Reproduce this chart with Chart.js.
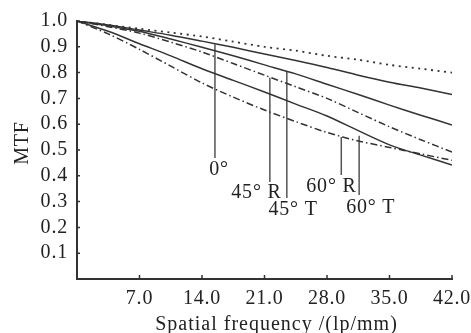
<!DOCTYPE html>
<html>
<head>
<meta charset="utf-8">
<script src="https://cdn.jsdelivr.net/npm/chart.js@4.4.1/dist/chart.umd.min.js"></script>
<style>
    html, body { margin: 0; padding: 0; background: #fff; }
</style>
</head>
<body>
<canvas id="mtfChart" width="471" height="333"></canvas>
<script>
// spatial frequency samples (lp/mm)
const freq = [0, 3.5, 7, 10.5, 14, 17.5, 21, 24.5, 28, 31.5, 35, 38.5, 42];

// MTF curves
const mtfDiffraction = [1.0, 0.985, 0.97, 0.955, 0.94, 0.92, 0.90, 0.885, 0.865, 0.85, 0.83, 0.815, 0.80];
const mtf0 = [1.0, 0.985, 0.965, 0.945, 0.922, 0.898, 0.872, 0.847, 0.82, 0.79, 0.763, 0.74, 0.715];
const mtf45T = [1.0, 0.982, 0.96, 0.93, 0.898, 0.865, 0.83, 0.795, 0.755, 0.715, 0.674, 0.635, 0.597];
const mtf45R = [1.0, 0.978, 0.953, 0.918, 0.88, 0.835, 0.79, 0.745, 0.70, 0.645, 0.59, 0.54, 0.492];
const mtf60T = [1.0, 0.96, 0.912, 0.865, 0.815, 0.77, 0.725, 0.678, 0.632, 0.575, 0.52, 0.48, 0.442];
const mtf60R = [1.0, 0.95, 0.89, 0.825, 0.76, 0.705, 0.655, 0.61, 0.568, 0.535, 0.51, 0.485, 0.46];

// field labels and their leader lines (data units)
const fieldLabels = ["0°", "45° R", "45° T", "60° R", "60° T"];
const leaderFreq = [15.45, 21.6, 23.5, 29.6, 31.6];
const leaderTop = [0.91, 0.78, 0.805, 0.55, 0.555];
const leaderBottom = [0.469, 0.376, 0.314, 0.403, 0.326];
const labelFreq = [15.9, 20.1, 24.2, 28.5, 32.9];
const labelMtf = [0.422, 0.333, 0.267, 0.357, 0.275];

const xTitle = "Spatial frequency /(lp/mm)";
const yTitle = "MTF";

const FONT = "'Liberation Serif', 'Times New Roman', serif";
const INK = "#333";

function toPoints(values) {
    return freq.map((f, i) => ({ x: f, y: values[i] }));
}

function curve(values, dash, width) {
    return {
        data: toPoints(values),
        borderColor: INK,
        borderWidth: width || 1.5,
        borderDash: dash,
        pointRadius: 0,
        tension: 0.3
    };
}

const leaderSets = leaderFreq.map((f, i) => ({
    data: [{ x: f, y: leaderTop[i] }, { x: f, y: leaderBottom[i] }],
    borderColor: "#555",
    borderWidth: 1.5,
    pointRadius: 0
}));

// the printed figure uses slightly wide lettering
const spacingPlugin = {
    id: "spacing",
    beforeDraw(chart) {
        chart.ctx.letterSpacing = "0.8px";
    }
};

// inward tick marks, axis titles and field labels
const decorPlugin = {
    id: "decor",
    afterDraw(chart) {
        const { ctx, chartArea, scales } = chart;
        const xs = scales.x, ys = scales.y;
        ctx.save();
        ctx.strokeStyle = INK;
        ctx.lineWidth = 1.5;
        ctx.beginPath();
        xs.ticks.forEach(t => {
            if (t.value === 0) return;
            const px = xs.getPixelForValue(t.value);
            ctx.moveTo(px, chartArea.bottom);
            ctx.lineTo(px, chartArea.bottom - 4);
        });
        ys.ticks.forEach(t => {
            if (t.value === 0) return;
            const py = ys.getPixelForValue(t.value);
            ctx.moveTo(chartArea.left, py);
            ctx.lineTo(chartArea.left + 3, py);
        });
        ctx.stroke();

        ctx.fillStyle = "#222";
        ctx.font = "20px " + FONT;
        ctx.letterSpacing = "0.8px";
        ctx.textAlign = "center";
        ctx.textBaseline = "middle";
        fieldLabels.forEach((txt, i) => {
            ctx.fillText(txt, xs.getPixelForValue(labelFreq[i]), ys.getPixelForValue(labelMtf[i]));
        });

        ctx.letterSpacing = "1px";
        ctx.fillText(xTitle, chartArea.left + (chartArea.right - chartArea.left) * 0.532, chart.height - 8);

        ctx.letterSpacing = "0.8px";
        ctx.translate(23, (chartArea.top + chartArea.bottom) / 2 - 7);
        ctx.rotate(-Math.PI / 2);
        ctx.fillText(yTitle, 0, 0);
        ctx.restore();
    }
};

const ctx = document.getElementById("mtfChart").getContext("2d");
new Chart(ctx, {
    type: "line",
    data: {
        datasets: [
            curve(mtfDiffraction, [2, 4.5], 1.8),
            curve(mtf0, []),
            curve(mtf45T, []),
            curve(mtf45R, [7, 3, 1.5, 3]),
            curve(mtf60T, []),
            curve(mtf60R, [7, 3, 1.5, 3]),
            ...leaderSets
        ]
    },
    options: {
        responsive: false,
        animation: false,
        devicePixelRatio: 1,
        layout: { padding: { left: 0, right: 19, top: 21, bottom: 0 } },
        plugins: {
            legend: { display: false },
            tooltip: { enabled: false }
        },
        scales: {
            x: {
                type: "linear",
                min: 0,
                max: 42,
                afterFit: s => {
                    s.height = 54;
                    s.paddingLeft = 0;
                    s.paddingRight = 0;
                },
                grid: { display: false, drawTicks: false },
                border: { display: true, color: INK, width: 2 },
                ticks: {
                    stepSize: 7,
                    padding: 8,
                    autoSkip: false,
                    color: "#222",
                    font: { family: FONT, size: 20 },
                    maxRotation: 0,
                    callback: v => v === 0 ? "" : v.toFixed(1)
                }
            },
            y: {
                min: 0,
                max: 1,
                afterFit: s => {
                    s.width = 77;
                    s.paddingTop = 0;
                    s.paddingBottom = 0;
                },
                grid: { display: false, drawTicks: false },
                border: { display: true, color: INK, width: 2 },
                ticks: {
                    stepSize: 0.1,
                    padding: 9,
                    autoSkip: false,
                    color: "#222",
                    font: { family: FONT, size: 20 },
                    callback: v => v === 0 ? "" : v.toFixed(1)
                }
            }
        }
    },
    plugins: [spacingPlugin, decorPlugin]
});
</script>
</body>
</html>
